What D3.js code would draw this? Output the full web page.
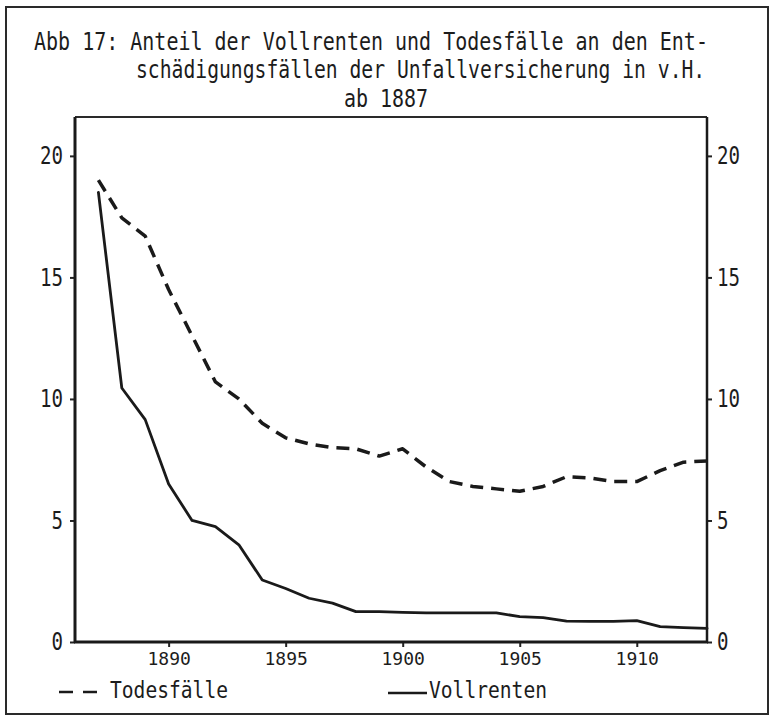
<!DOCTYPE html>
<html>
<head>
<meta charset="utf-8">
<script src="https://cdn.jsdelivr.net/npm/d3@7/dist/d3.min.js"></script>
<style>
body { margin:0; background:#fff; }
svg text { font-family:"DejaVu Sans Mono", "Liberation Mono", monospace; fill:#1c1c1c; }
.frame { fill:none; stroke:#2a2a2a; }
.serie { fill:none; stroke:#1a1a1a; stroke-linejoin:round; stroke-linecap:round; }
</style>
</head>
<body>
<div id="chart"></div>
<script>
var years = [1887,1888,1889,1890,1891,1892,1893,1894,1895,1896,1897,1898,1899,1900,
             1901,1902,1903,1904,1905,1906,1907,1908,1909,1910,1911,1912,1913];
var todesfaelle = [19.0,17.45,16.7,14.5,12.6,10.7,10.0,9.0,8.4,8.15,8.0,7.95,7.65,7.95,
                   7.2,6.6,6.4,6.3,6.2,6.4,6.8,6.75,6.6,6.6,7.05,7.4,7.45];
var vollrenten = [18.5,10.45,9.15,6.5,5.0,4.75,4.0,2.55,2.2,1.8,1.6,1.25,1.25,1.22,
                  1.2,1.2,1.2,1.2,1.04,1.0,0.86,0.85,0.85,0.88,0.63,0.59,0.56];
var yTicks = [0,5,10,15,20];
var xTicks = [1890,1895,1900,1905,1910];
var titleLines = ["Abb 17: Anteil der Vollrenten und Todesfälle an den Ent-",
                  "schädigungsfällen der Unfallversicherung in v.H.",
                  "ab 1887"];
var legendNames = ["Todesfälle","Vollrenten"];

var options = {container:"#chart", width:775, height:718};

var svg = d3.select(options.container).append("svg")
    .attr("width", options.width).attr("height", options.height);

var x = d3.scaleLinear().domain([1886, 1913]).range([75, 707]);
var y = d3.scaleLinear().domain([0, 21.6]).range([642, 117]);

// aeusserer Rahmen
svg.append("rect").attr("class","frame")
    .attr("x",6).attr("y",7).attr("width",762).attr("height",707)
    .style("stroke-width",2);

// Titel (schmale Schreibmaschinenschrift: hoeher gezogen)
var titleX = [34, 136, 386], titleY = [50, 78, 107];
svg.selectAll(".title").data(titleLines).enter().append("text")
    .attr("class","title")
    .attr("transform", function(d,i){ return "translate(" + titleX[i] + "," + titleY[i] + ") scale(1,1.24)"; })
    .attr("text-anchor", function(d,i){ return i==2 ? "middle" : "start"; })
    .style("font-size", function(d,i){ return i==1 ? "19.7px" : "20px"; })
    .text(function(d){ return d; });

// Achsen
var left = svg.append("g").attr("transform","translate(" + x.range()[0] + ",0)")
    .call(d3.axisLeft(y).tickValues(yTicks).tickSize(5).tickSizeOuter(0).tickPadding(7));
var right = svg.append("g").attr("transform","translate(" + x.range()[1] + ",0)")
    .call(d3.axisRight(y).tickValues(yTicks).tickSize(5).tickSizeOuter(0).tickPadding(5));
var bottom = svg.append("g").attr("transform","translate(0," + y.range()[0] + ")")
    .call(d3.axisBottom(x).tickValues(xTicks).tickFormat(d3.format("d")).tickSize(5).tickSizeOuter(0).tickPadding(5));

[left, right, bottom].forEach(function(g){
    g.select(".domain").remove();
    g.selectAll(".tick line").style("stroke","#222").style("stroke-width",2);
});
left.selectAll("text").style("font-size","24px").style("fill","#1c1c1c")
    .attr("textLength", function(d){ return String(d).length * 11.5; })
    .attr("lengthAdjust","spacingAndGlyphs");
right.selectAll("text").style("font-size","24px").style("fill","#1c1c1c")
    .attr("textLength", function(d){ return String(d).length * 11.5; })
    .attr("lengthAdjust","spacingAndGlyphs");
bottom.selectAll("text").style("font-size","18px").style("fill","#1c1c1c");

// Plotrahmen
var x0 = x.range()[0], x1 = x.range()[1], yb = y.range()[0], yt = y.range()[1];
svg.append("line").attr("x1",x0).attr("x2",x1).attr("y1",yt).attr("y2",yt)
    .style("stroke","#2a2a2a").style("stroke-width",2);
svg.append("line").attr("x1",x0).attr("x2",x0).attr("y1",yt).attr("y2",yb+1)
    .style("stroke","#1a1a1a").style("stroke-width",3);
svg.append("line").attr("x1",x1).attr("x2",x1).attr("y1",yt).attr("y2",yb+1)
    .style("stroke","#1a1a1a").style("stroke-width",2.5);
svg.append("line").attr("x1",x0-1).attr("x2",x1+1).attr("y1",yb).attr("y2",yb)
    .style("stroke","#1a1a1a").style("stroke-width",3);

// Linien
var line = d3.line()
    .x(function(d){ return x(d[0]); })
    .y(function(d){ return y(d[1]); });

svg.append("path").attr("class","serie")
    .datum(d3.zip(years, todesfaelle))
    .attr("d", line)
    .style("stroke-width",3.5)
    .style("stroke-dasharray","13,8")
    .style("stroke-linecap","butt");

svg.append("path").attr("class","serie")
    .datum(d3.zip(years, vollrenten))
    .attr("d", line)
    .style("stroke-width",2.8);

// Legende
var lg = svg.append("g");
lg.append("line").attr("x1",59).attr("x2",73).attr("y1",692).attr("y2",692)
    .style("stroke","#1a1a1a").style("stroke-width",2.5);
lg.append("line").attr("x1",83).attr("x2",97).attr("y1",692).attr("y2",692)
    .style("stroke","#1a1a1a").style("stroke-width",2.5);
lg.append("line").attr("x1",388).attr("x2",427).attr("y1",693).attr("y2",693)
    .style("stroke","#1a1a1a").style("stroke-width",2.5);
var legendX = [110, 429];
lg.selectAll("text").data(legendNames).enter().append("text")
    .attr("x", function(d,i){ return legendX[i]; })
    .attr("y", 698)
    .attr("textLength", function(d){ return d.length * 11.8; })
    .attr("lengthAdjust","spacingAndGlyphs")
    .style("font-size","23px")
    .text(function(d){ return d; });
</script>
</body>
</html>
